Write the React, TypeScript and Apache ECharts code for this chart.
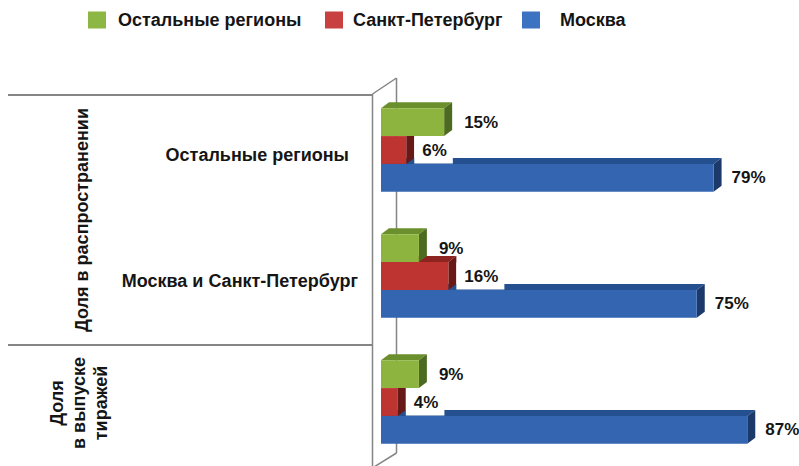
import React, { useEffect, useRef } from "react";
import * as echarts from "echarts";

// ---- data (top to bottom) ----
const categories = ["Остальные регионы", "Москва и Санкт-Петербург", ""];
const groupLabels = ["Доля в распространении", "Доля\nв выпуске\nтиражей"];
const seriesNames = ["Остальные регионы", "Санкт-Петербург", "Москва"];
const otherRegions = [15, 9, 9];
const saintPetersburg = [6, 16, 4];
const moscow = [79, 75, 87];

const FONT = '"Liberation Sans", Arial, Helvetica, sans-serif';
const CAT_GAP = 0.337;
const DX = 8;
const DY = 6;

const palettes = [
  { front: "#8db43f", top: "#6a8f2c", side: "#4d6b20", legend: "#8db744" },
  { front: "#bd3431", top: "#8c2321", side: "#671917", legend: "#c8403f" },
  { front: "#3465b0", top: "#25508f", side: "#1b3a6b", legend: "#3b73c2" },
];

function makeRenderItem(slot: number, pal: any, gap: number, bg: boolean) {
  return (params: any, api: any) => {
    const val = api.value(0);
    const cat = api.value(1);
    const p0 = api.coord([0, cat]);
    const p1 = api.coord([val, cat]);
    const band = api.size([0, 1])[1];
    const barH = (band * (1 - CAT_GAP)) / 3;
    const yc = p0[1] + (slot - 1) * barH;
    const yT = yc - barH / 2;
    const yB = yc + barH / 2;
    const x0 = p0[0];
    const x1 = p1[0];
    return {
      type: "group",
      children: [
        {
          type: "polygon",
          shape: { points: [[x0, yT], [x1, yT], [x1 + DX, yT - DY], [x0 + DX, yT - DY]] },
          style: { fill: pal.top },
        },
        {
          type: "polygon",
          shape: { points: [[x1, yT], [x1 + DX, yT - DY], [x1 + DX, yB - DY], [x1, yB]] },
          style: { fill: pal.side },
        },
        {
          type: "rect",
          shape: { x: x0, y: yT, width: x1 - x0, height: barH },
          style: { fill: pal.front },
        },
        {
          type: "text",
          style: {
            text: val + "%",
            x: x1 + DX,
            y: yc,
            font: `bold 17px ${FONT}`,
            fill: "#151515",
            align: "left",
            verticalAlign: "middle",
            backgroundColor: bg ? "#ffffff" : "transparent",
            padding: [5, 6, 5, gap],
          },
        },
      ],
    };
  };
}

const gray = "#858585";

export default function App() {
  const ref = useRef<HTMLDivElement>(null);
  useEffect(() => {
    document.body.style.margin = "0";
    const chart = echarts.init(ref.current!, null, { renderer: "svg" });
    const seriesData = [otherRegions, saintPetersburg, moscow];
    const gaps = [12, 8, 10];
    const option: any = {
      animation: false,
      backgroundColor: "#ffffff",
      legend: [
        { left: 88, pad: 7 },
        { left: 325, pad: 5 },
        { left: 522, pad: 15 },
      ].map((l, i) => ({
        data: [seriesNames[i]],
        left: l.left,
        top: 11,
        padding: 0,
        icon: "rect",
        itemWidth: 18,
        itemHeight: 17,
        textStyle: {
          fontSize: 18,
          fontWeight: "bold",
          fontFamily: FONT,
          color: "#151515",
          padding: [0, 0, 0, l.pad],
        },
      })),
      grid: {
        left: 381,
        top: 87,
        width: 421,
        height: 378,
        containLabel: false,
        outerBoundsMode: "none",
      },
      xAxis: {
        type: "value",
        min: 0,
        max: 100,
        show: false,
      },
      yAxis: {
        type: "category",
        inverse: true,
        data: categories,
        axisLine: { show: false },
        axisTick: { show: false },
        splitLine: { show: false },
        axisLabel: {
          margin: 23,
          formatter: (v: string) => (v === categories[0] ? `{a|${v}}` : `{b|${v}}`),
          rich: {
            a: {
              fontSize: 18,
              fontWeight: "bold",
              fontFamily: FONT,
              color: "#151515",
              padding: [9, 9, 0, 0],
            },
            b: {
              fontSize: 18,
              fontWeight: "bold",
              fontFamily: FONT,
              color: "#151515",
              padding: [9, 0, 0, 0],
            },
          },
        },
      },
      graphic: [
        { type: "line", z: 0, shape: { x1: 8, y1: 95, x2: 373, y2: 95 }, style: { stroke: gray, lineWidth: 2 } },
        { type: "line", z: 0, shape: { x1: 8, y1: 345, x2: 373, y2: 345 }, style: { stroke: gray, lineWidth: 2 } },
        { type: "line", z: 0, shape: { x1: 372.5, y1: 94, x2: 372.5, y2: 466 }, style: { stroke: gray, lineWidth: 1.5 } },
        { type: "line", z: 0, shape: { x1: 372.5, y1: 94, x2: 396.5, y2: 78 }, style: { stroke: gray, lineWidth: 1.5 } },
        { type: "line", z: 0, shape: { x1: 396.5, y1: 78, x2: 396.5, y2: 453 }, style: { stroke: gray, lineWidth: 1.5 } },
        { type: "line", z: 0, shape: { x1: 396.5, y1: 453, x2: 374, y2: 467 }, style: { stroke: gray, lineWidth: 1.5 } },
        {
          type: "text",
          x: 82,
          y: 220,
          rotation: Math.PI / 2,
          style: {
            text: groupLabels[0],
            x: 0,
            y: 0,
            font: `bold 18px ${FONT}`,
            fill: "#151515",
            align: "center",
            verticalAlign: "middle",
            textAlign: "center",
            textVerticalAlign: "middle",
          },
        },
        {
          type: "text",
          x: 79,
          y: 403,
          rotation: Math.PI / 2,
          style: {
            text: groupLabels[1],
            x: 0,
            y: 0,
            font: `bold 18px ${FONT}`,
            lineHeight: 22,
            fill: "#151515",
            align: "center",
            verticalAlign: "middle",
            textAlign: "center",
            textVerticalAlign: "middle",
          },
        },
      ],
      series: seriesNames.map((name, i) => ({
        type: "custom",
        name,
        z: 4 - i,
        itemStyle: { color: palettes[i].legend },
        encode: { x: 0, y: 1 },
        data: seriesData[i].map((v, ci) => [v, ci]),
        renderItem: makeRenderItem(i, palettes[i], gaps[i], i === 1),
      })),
    };
    chart.setOption(option);
    return () => chart.dispose();
  }, []);
  return <div ref={ref} style={{ width: 799, height: 466 }} />;
}
